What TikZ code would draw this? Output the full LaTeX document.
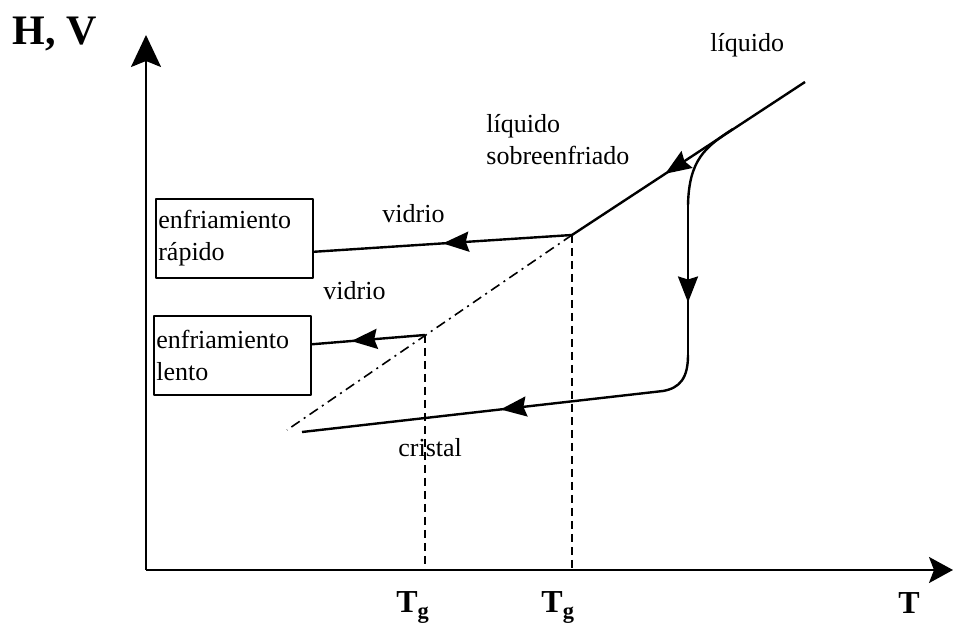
\documentclass[tikz,border=0pt]{standalone}
\usepackage{fontspec}
\setmainfont{Liberation Serif}
\usetikzlibrary{arrows.meta,decorations.markings}
\tikzset{
  midarrow/.style={postaction={decorate},decoration={markings,
      mark=at position #1 with {\arrow{Stealth[length=13pt,width=10pt,inset=1.5pt]}}}},
  curva/.style={line width=1.2pt},
  caja/.style={draw,line width=0.8pt,align=left,anchor=north west,inner xsep=1pt,
      text width=76pt,minimum width=78.5pt,minimum height=39.5pt},
  rotulo/.style={anchor=base west,inner sep=0pt,align=left},
  guia/.style={line width=0.9pt,dash pattern=on 4pt off 2.5pt},
}
\begin{document}
\begin{tikzpicture}[x=0.5pt,y=-0.5pt,line join=round,font=\fontsize{13}{16}\selectfont]
    \useasboundingbox (0,0) rectangle (953,624);
    % ejes
    \coordinate (O) at (146,570);
    \coordinate (ymax) at (146,35);
    \coordinate (xmax) at (953,570);
    \draw[line width=1.1pt,-{Stealth[length=16pt,width=15pt,inset=3pt]}] (O)--(ymax);
    \draw[line width=1.1pt,-{Stealth[length=12pt,width=13pt,inset=2.5pt]}] (O)--(xmax);
    \node[rotulo,font=\fontsize{21}{24}\selectfont\bfseries] (hv) at (12,45) {H, V};
    \node[rotulo,font=\fontsize{16}{18}\selectfont] (T) at (898,614) {\textbf{T}};
    % puntos de la curva
    \coordinate (ltop) at (805,82);
    \coordinate (kfast) at (572,235);
    \coordinate (kslow) at (425,335);
    \coordinate (dend) at (287,430);
    \coordinate (cini) at (733,129);
    \coordinate (cv1) at (688,205);
    \coordinate (cv2) at (688,355);
    \coordinate (cfin) at (663,391);
    \coordinate (cend) at (302,432);
    \coordinate (tg1) at (kslow|-O);
    \coordinate (tg2) at (kfast|-O);
    % cajas
    \node[caja] (rapido) at (155,198) {enfriamiento\\rápido};
    \node[caja] (lento) at (153,315) {enfriamiento\\lento};
    % liquido y extension
    \draw[curva,midarrow=0.6] (ltop)--(kfast);
    \draw[line width=0.8pt,dash pattern=on 5pt off 2.5pt on 1pt off 2.5pt] (kfast)--(dend);
    % vidrios
    \draw[curva,midarrow=0.5] (kfast)--([yshift=-6.75pt]rapido.east);
    \draw[curva,midarrow=0.65] (kslow)--([yshift=5.5pt]lento.east);
    % cristal
    \draw[curva] (cini)..controls(705,147)and(689,160)..(cv1);
    \draw[curva,midarrow=0.65] (cv1)--(cv2);
    \draw[curva] (cv2)..controls(688,378)and(680,388)..(cfin);
    \draw[curva,midarrow=0.45] (cfin)--(cend);
    % Tg
    \draw[guia] (kslow)--(tg1);
    \draw[guia] (kfast)--(tg2);
    \node[rotulo,font=\fontsize{16}{18}\selectfont] (Tg1) at (396,613) {\textbf{T}\textsubscript{\textbf{g}}};
    \node[rotulo,font=\fontsize{16}{18}\selectfont] (Tg2) at (541,613) {\textbf{T}\textsubscript{\textbf{g}}};
    % rotulos
    \node[rotulo] (liq) at (710,52) {líquido};
    \node[rotulo] (sobre) at (486,165) {líquido\\sobreenfriado};
    \node[rotulo] (vid1) at (382,223) {vidrio};
    \node[rotulo] (vid2) at (323,300) {vidrio};
    \node[rotulo] (cris) at (398,457) {cristal};
\end{tikzpicture}
\end{document}
